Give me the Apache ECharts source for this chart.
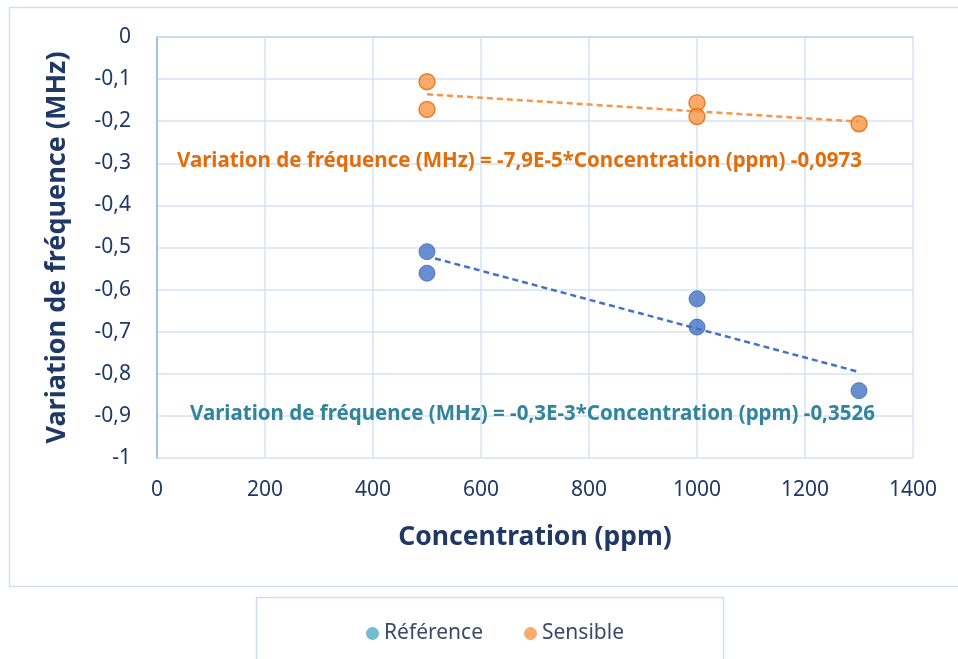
<!DOCTYPE html>
<html><head><meta charset="utf-8">
<script src="https://cdn.jsdelivr.net/npm/echarts@6/dist/echarts.min.js"></script>
<style>html,body{margin:0;padding:0;background:#fff;}#c{width:958px;height:659px;}</style>
</head><body><div id="c"></div>
<script>
// Data
const refX = [500, 500, 1000, 1000, 1300];
const refY = [-0.51, -0.561, -0.622, -0.689, -0.84];
const senX = [500, 500, 1000, 1000, 1300];
const senY = [-0.106, -0.172, -0.156, -0.189, -0.206];
const refTrendX = [515, 1298];
const refTrendY = [-0.526, -0.795];
const senTrendX = [500, 1300];
const senTrendY = [-0.136, -0.201];
const xTicks = [0, 200, 400, 600, 800, 1000, 1200, 1400];
const legendNames = ['Référence', 'Sensible'];
const refEq = 'Variation de fréquence (MHz) = -0,3E-3*Concentration (ppm) -0,3526';
const senEq = 'Variation de fréquence (MHz) = -7,9E-5*Concentration (ppm) -0,0973';

const zip = (a, b) => a.map((v, i) => [v, b[i]]);
const FONT = 'Noto Sans';
const NAVY = '#1f3864';

const chart = echarts.init(document.getElementById('c'));
chart.setOption({
  animation: false,
  textStyle: {fontFamily: FONT},
  grid: {left: 157, right: 45, top: 37, bottom: 201},
  xAxis: {
    type: 'value', min: xTicks[0], max: xTicks[xTicks.length - 1], interval: 200,
    axisLine: {show: true, lineStyle: {color: '#c5d6ee', width: 1.5}},
    axisTick: {show: false},
    axisLabel: {fontSize: 21, color: NAVY, margin: 22, fontFamily: FONT, formatter: v => String(v)},
    splitLine: {show: true, lineStyle: {color: '#d6e2f3', width: 1.5}},
    name: 'Concentration (ppm)', nameLocation: 'middle', nameGap: 66,
    nameTextStyle: {fontSize: 26.5, fontWeight: 'bold', color: NAVY, fontFamily: FONT}
  },
  yAxis: {
    type: 'value', min: -1, max: 0, interval: 0.1,
    axisLine: {show: true, onZero: false, lineStyle: {color: '#8eb4e3', width: 1.5}},
    axisTick: {show: false},
    axisLabel: {fontSize: 21, color: NAVY, margin: 26, fontFamily: FONT,
      formatter: v => String(Math.round(v * 10) / 10).replace('.', ',')},
    splitLine: {show: true, lineStyle: {color: '#d6e2f3', width: 1.5}},
    name: 'Variation de fréquence (MHz)', nameLocation: 'middle', nameGap: 86, nameRotate: 90,
    nameTextStyle: {fontSize: 27, fontWeight: 'bold', color: NAVY, fontFamily: FONT}
  },
  legend: {
    bottom: 10, left: 361, itemGap: 41, itemWidth: 13, itemHeight: 13, icon: 'circle',
    textStyle: {fontSize: 21, color: '#3b4a66', fontFamily: FONT},
    data: [
      {name: legendNames[0], itemStyle: {color: '#4bacc6', borderWidth: 0}},
      {name: legendNames[1], itemStyle: {color: '#f79646', borderWidth: 0}}
    ]
  },
  graphic: [
    {type: 'rect', z: -10, shape: {x: 9.5, y: 7.5, width: 960, height: 579},
      style: {fill: 'none', stroke: '#d2ddef', lineWidth: 1.5}},
    {type: 'rect', z: -10, shape: {x: 256.5, y: 597.5, width: 467, height: 80},
      style: {fill: 'none', stroke: '#d2ddef', lineWidth: 1.5}},
    {type: 'text', x: 177, y: 161, z: 100,
      style: {text: senEq, fontSize: 20.5, fontWeight: 'bold', fill: '#e46c0a', fontFamily: FONT, verticalAlign: 'middle'}},
    {type: 'text', x: 190, y: 414, z: 100,
      style: {text: refEq, fontSize: 20.5, fontWeight: 'bold', fill: '#31849b', fontFamily: FONT, verticalAlign: 'middle'}}
  ],
  series: [
    {name: legendNames[0], type: 'scatter', data: zip(refX, refY), symbolSize: 16, z: 5,
      itemStyle: {color: '#4472c4', borderColor: '#3d67b3', borderWidth: 1}},
    {name: legendNames[1], type: 'scatter', data: zip(senX, senY), symbolSize: 16, z: 5,
      itemStyle: {color: '#f79646', borderColor: '#e46c0a', borderWidth: 1.5}},
    {name: 'refTrend', type: 'line', data: zip(refTrendX, refTrendY), showSymbol: false, silent: true, z: 4,
      lineStyle: {color: '#4472c4', width: 2.5, type: [6, 4]}},
    {name: 'senTrend', type: 'line', data: zip(senTrendX, senTrendY), showSymbol: false, silent: true, z: 4,
      lineStyle: {color: '#f79646', width: 2.5, type: [6, 4]}}
  ]
});
</script></body></html>
